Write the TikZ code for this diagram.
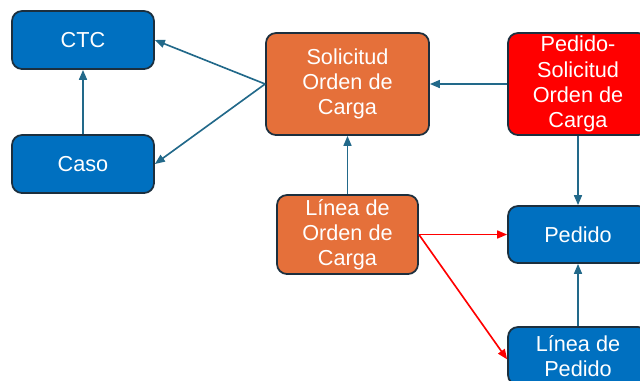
\documentclass[tikz,border=0pt]{standalone}
\usepackage{fontspec}
\setmainfont{Liberation Sans}
\usetikzlibrary{arrows.meta}

\definecolor{boxblue}{HTML}{0070C0}
\definecolor{boxorange}{HTML}{E5703A}
\definecolor{boxred}{HTML}{FF0000}
\definecolor{edgedark}{HTML}{1C2F3E}
\definecolor{linkblue}{HTML}{22698A}

\tikzset{
  entity/.style={draw=edgedark, line width=1.5pt, rounded corners=0.3cm,
    text=white, align=center, inner sep=2pt,
    font=\fontsize{18.5}{21.5}\selectfont},
  link/.style={linkblue, line width=1.4pt, -{Triangle[length=3mm,width=2.4mm]}},
  redlink/.style={boxred, line width=1.4pt, -{Triangle[length=3mm,width=2.4mm]}}
}

\begin{document}
\begin{tikzpicture}[x=0.03cm, y=-0.03cm]
      \useasboundingbox (0,0) rectangle (640,380);
      \clip (0,0) rectangle (640,380);

      \node[entity, fill=boxblue, minimum width=4.26cm, minimum height=1.74cm] (ctc) at (83,40) {CTC};
      \node[entity, fill=boxblue, minimum width=4.26cm, minimum height=1.74cm] (caso) at (83,164) {Caso};
      \node[entity, fill=boxorange, minimum width=4.89cm, minimum height=3.06cm] (soc) at (347.5,84) {Solicitud\\Orden de\\Carga};
      \node[entity, fill=boxred, minimum width=4.2cm, minimum height=3.06cm] (psoc) at (578,84) {Pedido-\\Solicitud\\Orden de\\Carga};
      \node[entity, fill=boxorange, minimum width=4.23cm, minimum height=2.37cm] (loc) at (347.5,234.5) {Línea de\\Orden de\\Carga};
      \node[entity, fill=boxblue, minimum width=4.2cm, minimum height=1.71cm] (pedido) at (578,234.5) {Pedido};
      \node[entity, fill=boxblue, minimum width=4.2cm, minimum height=1.74cm] (lped) at (578,356) {Línea de\\Pedido};

      \draw[link] (soc.west) -- (ctc.east);
      \draw[link] (soc.west) -- (caso.east);
      \draw[link] (caso) -- (ctc);
      \draw[link] (psoc) -- (soc);
      \draw[link] (loc) -- (soc);
      \draw[link] (psoc) -- (pedido);
      \draw[link] (lped) -- (pedido);

      \draw[redlink] (loc.east) -- (pedido.west);
      \draw[redlink] (loc.east) -- ([yshift=-0.1cm]lped.west);
    \end{tikzpicture}
\end{document}
